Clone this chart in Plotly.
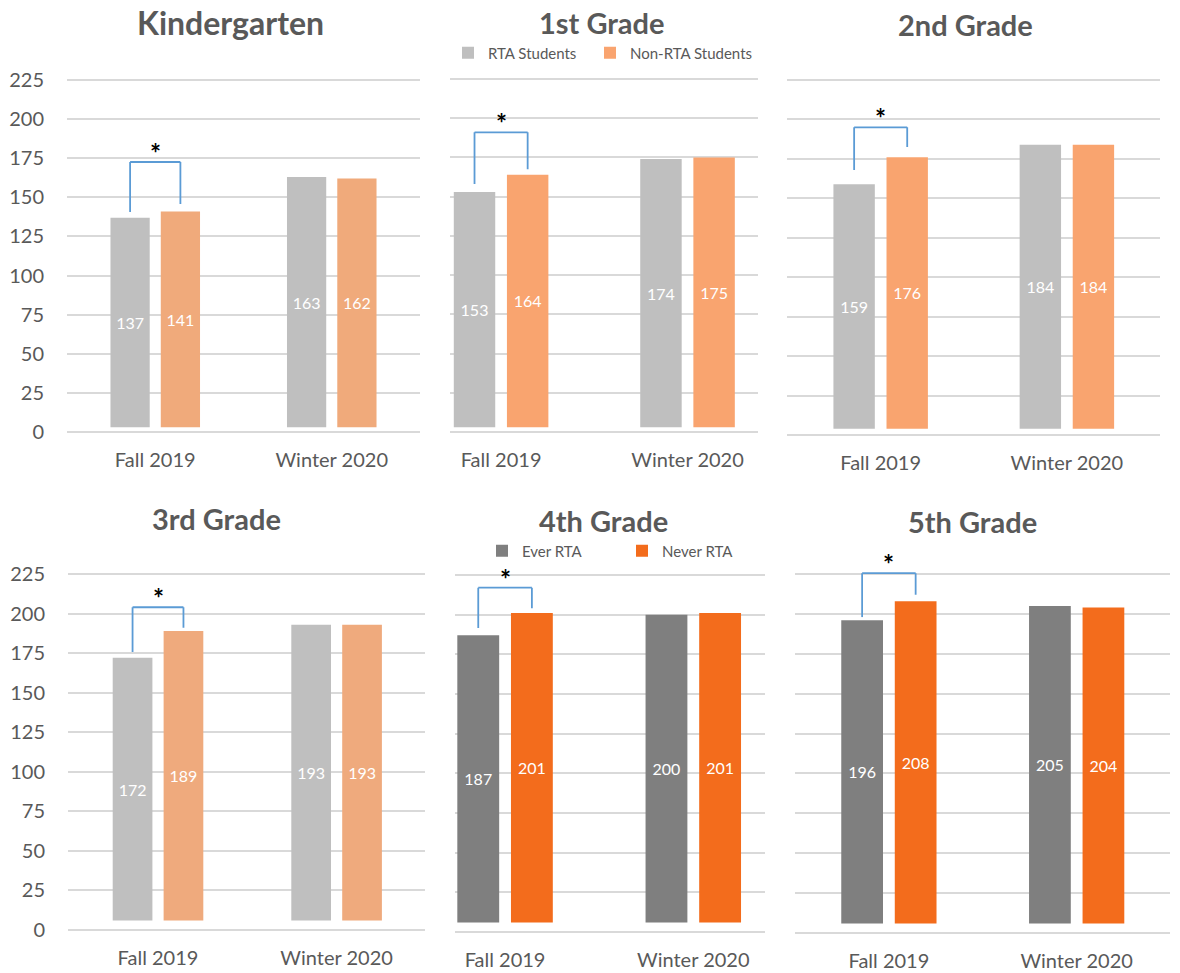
import plotly.graph_objects as go
from plotly.subplots import make_subplots

# ---------------- data ----------------
periods = ["Fall 2019", "Winter 2020"]
grades = ["Kindergarten", "1st Grade", "2nd Grade", "3rd Grade", "4th Grade", "5th Grade"]

fall_group_a = [137, 153, 159, 172, 187, 196]      # RTA / Ever RTA
winter_group_a = [163, 174, 184, 193, 200, 205]
fall_group_b = [141, 164, 176, 189, 201, 208]      # Non-RTA / Never RTA
winter_group_b = [162, 175, 184, 193, 201, 204]

names_top = ["RTA Students", "Non-RTA Students"]
names_bottom = ["Ever RTA", "Never RTA"]

y_ticks = [0, 25, 50, 75, 100, 125, 150, 175, 200, 225]

# significance bracket heights (Fall 2019 comparison)
bracket_left_end = [140.6, 158, 168, 175.7, 191.6, 198]
bracket_right_end = [145.7, 167.5, 182.5, 191, 204, 212]
bracket_top = [172.6, 191, 195, 204, 217, 225.5]

# ---------------- styles ----------------
gray_colors = ["#BFBFBF", "#BFBFBF", "#BFBFBF", "#BFBFBF", "#7F7F7F", "#7F7F7F"]
orange_colors = ["#F0AA7B", "#F9A46F", "#F9A46F", "#EFAA7D", "#F36C1C", "#F36C1C"]
bar_base = [3, 3, 4, 6, 6, 6]

W, H = 1180, 973
x_dom_px = [(67, 420), (450, 758), (787, 1160), (68, 425), (455, 765), (795, 1170)]
y_zero_px = [432, 432, 435, 930, 932, 933]
y_225_px = [80, 79, 80, 574, 575, 574]
x_ranges = [(-0.5, 1.5), (-0.274, 1.378), (-0.503, 1.5), (-0.504, 1.495), (-0.266, 1.381), (-0.5, 1.497)]
title_pos = [(230, 22), (602, 22), (965, 25), (216, 518), (603, 520), (972, 521)]
title_size = [32, 29, 29, 29, 29, 29]
Y_TOP = 245

BARGAP = 0.43
BARGROUPGAP = 0.22
FONT = "Lato"
TXT = "#595959"
GRID = "#D9D9D9"
BRACKET = "#5B9BD5"

fig = make_subplots(rows=2, cols=3)

for i in range(6):
    row, col = i // 3 + 1, i % 3 + 1
    names = names_top if i < 3 else names_bottom
    a_vals = [fall_group_a[i], winter_group_a[i]]
    b_vals = [fall_group_b[i], winter_group_b[i]]
    show = i in (1, 4)
    leg = "legend" if i < 3 else "legend2"
    series = (
        (a_vals, names[0], gray_colors[i], None),
        (b_vals, names[1], orange_colors[i], 150 if i < 3 else 100),
    )
    for vals, name, color, lw in series:
        fig.add_trace(
            go.Bar(
                x=periods,
                y=[v - bar_base[i] for v in vals],
                base=bar_base[i],
                name=name,
                marker=dict(color=color, line=dict(width=0)),
                text=[str(v) for v in vals],
                textposition="inside",
                insidetextanchor="middle",
                textangle=0,
                constraintext="none",
                textfont=dict(family=FONT, size=16, color="white"),
                showlegend=show,
                legend=leg,
                legendwidth=lw,
                hoverinfo="skip",
            ),
            row=row, col=col,
        )

fig.update_layout(
    width=W, height=H,
    margin=dict(l=0, r=0, t=0, b=0, autoexpand=False),
    paper_bgcolor="white", plot_bgcolor="white",
    barmode="group", bargap=BARGAP, bargroupgap=BARGROUPGAP,
    font=dict(family=FONT, color=TXT),
    legend=dict(
        orientation="h", x=(462 - 14) / W, y=1 - 53 / H, xanchor="left", yanchor="middle",
        font=dict(family=FONT, size=15, color=TXT), entrywidth=97, entrywidthmode="pixels",
        bgcolor="rgba(0,0,0,0)", traceorder="normal",
    ),
    legend2=dict(
        orientation="h", x=(496 - 14) / W, y=1 - 551 / H, xanchor="left", yanchor="middle",
        font=dict(family=FONT, size=15, color=TXT), entrywidth=95, entrywidthmode="pixels",
        bgcolor="rgba(0,0,0,0)", traceorder="normal",
    ),
)

slot = (1 - BARGAP) / 2

for i in range(6):
    ax = "" if i == 0 else str(i + 1)
    x0, x1 = x_dom_px[i]
    z = y_zero_px[i]
    scale = (y_zero_px[i] - y_225_px[i]) / 225.0
    top_px = z - Y_TOP * scale
    fig.layout[f"xaxis{ax}"].update(
        domain=[x0 / W, x1 / W],
        range=list(x_ranges[i]),
        showgrid=False, zeroline=False, showline=False,
        ticks="", ticklabelstandoff=14, automargin=False,
        tickfont=dict(family=FONT, size=20, color=TXT),
        fixedrange=True,
    )
    fig.layout[f"yaxis{ax}"].update(
        domain=[1 - z / H, 1 - top_px / H],
        range=[0, Y_TOP],
        tickvals=y_ticks,
        showticklabels=(i in (0, 3)),
        showgrid=True, gridcolor=GRID, gridwidth=1.5,
        zeroline=True, zerolinecolor=GRID, zerolinewidth=1.5,
        showline=False, ticks="", automargin=False,
        ticklabelstandoff=22,
        tickfont=dict(family=FONT, size=20, color=TXT),
        fixedrange=True,
    )

    # significance bracket
    xl, xr = 0 - slot / 2, 0 + slot / 2
    xref, yref = f"x{ax}", f"y{ax}"
    for (ax0, ay0, ax1, ay1) in (
        (xl, bracket_left_end[i], xl, bracket_top[i]),
        (xl, bracket_top[i], xr, bracket_top[i]),
        (xr, bracket_top[i], xr, bracket_right_end[i]),
    ):
        fig.add_shape(type="line", xref=xref, yref=yref, x0=ax0, y0=ay0, x1=ax1, y1=ay1,
                      line=dict(color=BRACKET, width=1.8))
    fig.add_annotation(xref=xref, yref=yref, x=0, y=bracket_top[i], text="<b>*</b>",
                       showarrow=False, yanchor="bottom", yshift=-9,
                       font=dict(family=FONT, size=26, color="black"))

    # panel title
    tx, ty = title_pos[i]
    fig.add_annotation(xref="paper", yref="paper", x=tx / W, y=1 - ty / H, text=f"<b>{grades[i]}</b>",
                       showarrow=False, xanchor="center", yanchor="middle",
                       font=dict(family=FONT, size=title_size[i], color=TXT))

fig.write_html("out.html")
